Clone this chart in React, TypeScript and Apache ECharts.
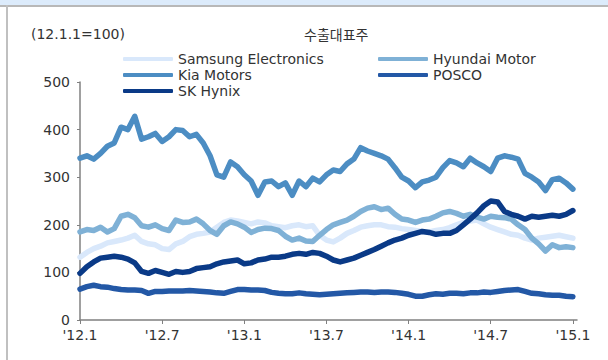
import React, { useEffect, useRef } from "react";
import * as echarts from "echarts";

const seriesNames = ["Samsung Electronics", "Hyundai Motor", "Kia Motors", "POSCO", "SK Hynix"];
const seriesColors = ["#d9e8fb", "#7fb1d6", "#4c8dc3", "#2358a6", "#0a3a87"];

const xTickValues = [0, 6, 12, 18, 24, 30, 36];
const xTickLabels = ["'12.1", "'12.7", "'13.1", "'13.7", "'14.1", "'14.7", "'15.1"];

// values every half month, starting Jan 2012 (12.1.1 = 100)
const samsung = [
  132, 142, 150, 155, 162, 165, 168, 172, 178, 165, 160, 158, 150, 148, 160, 165, 175, 180, 182, 185,
  195, 205, 210, 208, 205, 202, 206, 204, 198, 196, 194, 198, 200, 196, 198, 178, 168, 164, 172, 182,
  188, 195, 198, 200, 200, 196, 195, 192, 190, 188, 186, 185, 188, 190, 194, 200, 205, 208, 210, 202,
  195, 190, 185, 180, 178, 172, 168, 172, 174, 176, 178, 175, 172,
];
const hyundai = [
  185, 190, 188, 195, 185, 192, 218, 222, 215, 198, 195, 200, 192, 188, 210, 205, 206, 212, 202, 188,
  180, 198, 206, 202, 195, 184, 190, 193, 192, 188, 176, 168, 172, 166, 165, 178, 190, 200, 205, 210,
  218, 228, 235, 238, 232, 235, 222, 212, 210, 205, 210, 212, 218, 225, 228, 224, 218, 222, 216, 212,
  218, 216, 215, 212, 200, 190, 172, 160, 145, 158, 152, 154, 152,
];
const kia = [
  340, 345, 338, 350, 365, 372, 405, 400, 428, 380, 385, 392, 375, 385, 400, 398, 385, 390, 372, 345,
  305, 300, 332, 322, 305, 292, 262, 290, 292, 280, 288, 262, 292, 280, 298, 290, 305, 315, 312, 328,
  338, 362, 355, 350, 345, 338, 320, 300, 292, 278, 290, 294, 300, 320, 335, 330, 322, 340, 330, 322,
  312, 340, 345, 342, 338, 308, 300, 290, 272, 295, 298, 288, 275,
];
const posco = [
  65, 70, 73, 70, 69, 66, 64, 63, 63, 62, 56, 60, 60, 61, 61, 61, 62, 61, 60, 59,
  57, 56, 60, 64, 64, 63, 63, 62, 58, 56, 55, 55, 57, 55, 54, 53, 54, 55, 56, 57,
  58, 59, 59, 58, 59, 59, 58, 56, 54, 50, 50, 53, 55, 54, 56, 56, 55, 57, 57, 59,
  58, 60, 62, 63, 64, 60, 56, 55, 53, 52, 52, 50, 49,
];
const skHynix = [
  98, 112, 122, 130, 132, 134, 132, 128, 120, 102, 98, 104, 100, 96, 102, 100, 102, 108, 110, 112,
  118, 122, 124, 126, 118, 120, 126, 128, 132, 132, 134, 138, 140, 138, 142, 140, 134, 126, 122, 126,
  130, 136, 142, 148, 155, 162, 168, 172, 178, 182, 186, 184, 180, 182, 182, 188, 200, 212, 225, 240,
  250, 248, 228, 222, 218, 212, 218, 216, 218, 220, 218, 222, 230,
];

const allValues = [samsung, hyundai, kia, posco, skHynix];
const FONT = "DejaVu Sans";

export default function App() {
  const ref = useRef<HTMLDivElement>(null);
  useEffect(() => {
    document.body.style.margin = "0";
    if (!ref.current) return;
    const chart = echarts.init(ref.current, null, { renderer: "svg" });
    const series = allValues.map((vals, k) => ({
      name: seriesNames[k],
      type: "line",
      data: vals.map((v, i) => [i * 0.5, v]),
      showSymbol: false,
      symbol: "none",
      lineStyle: { width: 5.5, color: seriesColors[k], cap: "round", join: "round" },
      itemStyle: { color: seriesColors[k] },
      z: 2 + k,
    }));
    const legendBase = {
      orient: "vertical",
      icon: "roundRect",
      itemWidth: 50,
      itemHeight: 4,
      itemGap: 0,
      textStyle: { fontFamily: FONT, fontSize: 14, color: "#333", lineHeight: 16 },
      top: 46,
    };
    chart.setOption({
      animation: false,
      backgroundColor: "#ffffff",
      grid: { left: 80, right: 31, top: 82, bottom: 40 },
      legend: [
        { ...legendBase, left: 118, data: [seriesNames[0], seriesNames[2], seriesNames[4]] },
        { ...legendBase, left: 373, data: [seriesNames[1], seriesNames[3]] },
      ],
      graphic: [
        { type: "rect", shape: { x: 0, y: 0, width: 608, height: 5 }, style: { fill: "#dcebfb" } },
        { type: "rect", shape: { x: 0, y: 5, width: 608, height: 2 }, style: { fill: "#b8b8b8" } },
        { type: "rect", shape: { x: 6, y: 5, width: 2, height: 355 }, style: { fill: "#c0c0c0" } },
        {
          type: "text",
          left: 31,
          top: 27,
          style: { text: "(12.1.1=100)", font: `14px '${FONT}'`, fill: "#333" },
        },
        {
          type: "text",
          left: 304,
          top: 27,
          style: { text: "수출대표주", font: "14px 'Noto Sans CJK KR'", fill: "#333" },
        },
      ],
      xAxis: {
        type: "value",
        min: 0,
        max: 36.3,
        interval: 6,
        splitLine: { show: false },
        axisLine: { lineStyle: { color: "#808080", width: 1.5 } },
        axisTick: { show: true, length: 4, customValues: xTickValues, lineStyle: { color: "#808080" } },
        axisLabel: {
          customValues: xTickValues,
          formatter: (v: number) => {
            const idx = xTickValues.indexOf(Math.round(v));
            return idx >= 0 ? xTickLabels[idx] : "";
          },
          fontFamily: FONT,
          fontSize: 14,
          color: "#333",
          margin: 8,
        },
      },
      yAxis: {
        type: "value",
        min: 0,
        max: 500,
        interval: 100,
        splitLine: { show: false },
        axisLine: { show: true, lineStyle: { color: "#808080", width: 1.5 } },
        axisTick: { show: true, length: 3, lineStyle: { color: "#808080" } },
        axisLabel: { fontFamily: FONT, fontSize: 14, color: "#333", margin: 10 },
      },
      series,
    });
    return () => chart.dispose();
  }, []);
  return <div ref={ref} style={{ width: 608, height: 360 }} />;
}
